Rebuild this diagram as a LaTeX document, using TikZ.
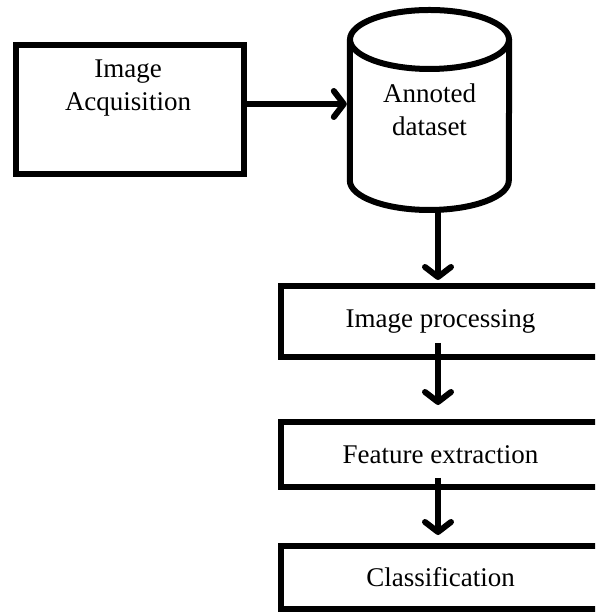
\documentclass[tikz,border=0pt]{standalone}
\usepackage{fontspec}
\setmainfont{Liberation Serif}
\usetikzlibrary{arrows.meta}
\tikzset{
  stagebox/.style={draw, line width=6pt, minimum width=319pt, inner sep=0pt, font=\fontsize{27}{32}\selectfont},
  flow/.style={line width=6pt, -{Straight Barb[length=10pt, width=26pt, line cap=round, line join=round]}}
}
\begin{document}
\begin{tikzpicture}[x=1pt, y=1pt, font=\fontsize{27}{33}\selectfont]
      \path[use as bounding box, clip] (0,0) rectangle (595,612);
      \node[draw, line width=6pt, minimum width=228pt, minimum height=129pt, inner sep=0pt] (acq) at (130,502.5) {};
      \node[align=center] (acqtext) at (128,523.5) {Image\\Acquisition};
      % dataset cylinder
      \node[minimum width=159pt, minimum height=200pt, inner sep=0pt, align=center] (data) at (429.5,502) {Annoted\\dataset};
      \draw[line width=6pt, line join=round] (data.north west) ++(0,-29.5) -- (data.south west |- 0,431.5)
        arc[start angle=180, end angle=360, x radius=79.5, y radius=29.5] -- ([yshift=-29.5pt]data.north east);
      \draw[line width=6pt] (429.5,572.5) ellipse[x radius=79.5, y radius=29.5];
      \node[stagebox, minimum height=71pt] (proc) at (440.5,290.5) {Image processing};
      \node[stagebox, minimum height=65pt] (feat) at (440.5,157.5) {Feature extraction};
      \node[stagebox, minimum height=63pt] (cls) at (440.5,34.5) {Classification};
      \begin{scope}[flow]
        \draw ([yshift=5.5pt]acq.east) -- ([xshift=-3pt, yshift=6pt]data.west);
        \draw ([xshift=8.5pt]data.south) -- ([xshift=-2.5pt, yshift=3pt]proc.north);
        \draw ([xshift=-2.5pt, yshift=17pt]proc.south) -- ([xshift=-2.5pt, yshift=14pt]feat.north);
        \draw ([xshift=-2.5pt, yshift=12pt]feat.south) -- ([xshift=-2.5pt, yshift=8pt]cls.north);
      \end{scope}
    \end{tikzpicture}
\end{document}
